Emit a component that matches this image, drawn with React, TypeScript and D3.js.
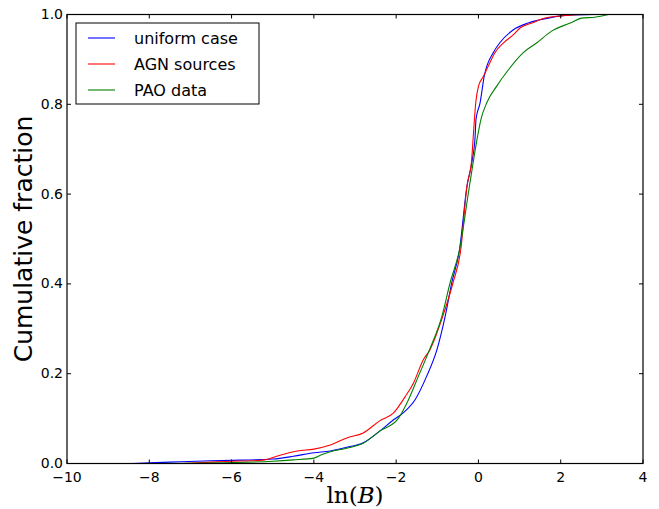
import React from "react";
import * as d3 from "d3";

const uniformX = [-8.4, -7.5, -6.5, -6.0, -5.0, -4.5, -4.0, -3.6, -3.2, -2.8, -2.4, -2.07, -1.8, -1.54, -1.26, -1.01, -0.81, -0.65, -0.46, -0.28, -0.15, -0.08, -0.06, 0.04, 0.14, 0.36, 0.52, 0.85, 1.21, 1.70, 2.1, 2.8];
const uniformY = [0, 0.003, 0.006, 0.007, 0.01, 0.016, 0.024, 0.028, 0.036, 0.046, 0.072, 0.097, 0.115, 0.142, 0.194, 0.253, 0.327, 0.402, 0.476, 0.617, 0.676, 0.729, 0.766, 0.803, 0.862, 0.915, 0.937, 0.966, 0.981, 0.992, 0.998, 1.0];

const agnX = [-7.2, -6.5, -6.0, -5.5, -5.2, -4.8, -4.4, -4.0, -3.6, -3.2, -2.8, -2.4, -2.07, -1.78, -1.58, -1.34, -1.18, -0.87, -0.62, -0.43, -0.28, -0.165, -0.125, -0.066, 0.0, 0.12, 0.24, 0.40, 0.61, 0.85, 1.01, 1.30, 1.62, 2.02, 2.51];
const agnY = [0, 0.003, 0.005, 0.006, 0.008, 0.019, 0.028, 0.032, 0.041, 0.057, 0.068, 0.095, 0.112, 0.149, 0.179, 0.231, 0.253, 0.327, 0.402, 0.476, 0.617, 0.676, 0.729, 0.803, 0.84, 0.862, 0.885, 0.915, 0.937, 0.955, 0.97, 0.981, 0.992, 0.997, 1.0];

const paoX = [-7.8, -6.0, -5.0, -4.5, -4.0, -3.8, -3.6, -3.2, -2.8, -2.4, -1.95, -1.70, -1.46, -1.19, -0.89, -0.69, -0.46, -0.22, -0.02, 0.06, 0.20, 0.44, 0.73, 1.09, 1.42, 1.78, 2.23, 2.51, 2.83, 3.16];
const paoY = [0, 0.002, 0.005, 0.008, 0.012, 0.02, 0.026, 0.034, 0.045, 0.072, 0.1, 0.142, 0.194, 0.253, 0.327, 0.402, 0.476, 0.617, 0.729, 0.766, 0.803, 0.84, 0.877, 0.915, 0.937, 0.963, 0.981, 0.992, 0.994, 1.0];

const seriesNames = ["uniform case", "AGN sources", "PAO data"];
const seriesColors = ["#0000ff", "#ff0000", "#008000"];
const xTicks = [-10, -8, -6, -4, -2, 0, 2, 4];
const yTicks = [0, 0.2, 0.4, 0.6, 0.8, 1.0];

export default function App() {
  const W = 659, H = 509;
  const left = 67, right = 643, top = 14.5, bottom = 463.5;
  const x = d3.scaleLinear().domain([-10, 4]).range([left, right]);
  const y = d3.scaleLinear().domain([0, 1]).range([bottom, top]);
  const line = d3.line<[number, number]>().x(d => x(d[0])).y(d => y(d[1])).curve(d3.curveMonotoneX);
  const series = [
    uniformX.map((v, i) => [v, uniformY[i]] as [number, number]),
    agnX.map((v, i) => [v, agnY[i]] as [number, number]),
    paoX.map((v, i) => [v, paoY[i]] as [number, number]),
  ];
  const fmtX = (v: number) => (v < 0 ? "\u2212" + Math.abs(v) : String(v));
  const font = "'DejaVu Sans', sans-serif";
  const tl = 4;
  return (
    <svg width={W} height={H} style={{ position: "absolute", left: 0, top: 0 }}>
      <rect x={0} y={0} width={W} height={H} fill="#fff" />
      <g fill="none" strokeWidth={1.1}>
        {series.map((s, i) => (
          <path key={i} d={line(s) || ""} stroke={seriesColors[i]} />
        ))}
      </g>
      <rect x={left} y={top} width={right - left} height={bottom - top} fill="none" stroke="#000" strokeWidth={1.2} />
      {xTicks.map(t => (
        <g key={"x" + t}>
          <line x1={x(t)} x2={x(t)} y1={bottom} y2={bottom - tl} stroke="#000" />
          <line x1={x(t)} x2={x(t)} y1={top} y2={top + tl} stroke="#000" />
          <text x={x(t)} y={bottom + 18} textAnchor="middle" fontFamily={font} fontSize={14}>{fmtX(t)}</text>
        </g>
      ))}
      {yTicks.map(t => (
        <g key={"y" + t}>
          <line x1={left} x2={left + tl} y1={y(t)} y2={y(t)} stroke="#000" />
          <line x1={right} x2={right - tl} y1={y(t)} y2={y(t)} stroke="#000" />
          <text x={left - 4} y={y(t) + 4.5} textAnchor="end" fontFamily={font} fontSize={14}>{t.toFixed(1)}</text>
        </g>
      ))}
      <g>
        <rect x={76} y={23} width={183} height={81} fill="#fff" stroke="#000" strokeWidth={1} />
        {seriesNames.map((n, i) => (
          <g key={n}>
            <line x1={88} x2={115} y1={38 + i * 26} y2={38 + i * 26} stroke={seriesColors[i]} strokeWidth={1.1} />
            <text x={134} y={38 + i * 26 + 6} fontFamily={font} fontSize={16}>{n}</text>
          </g>
        ))}
      </g>
      <text transform={`translate(32,${(top + bottom) / 2}) rotate(-90)`} textAnchor="middle" fontFamily={font} fontSize={25}>Cumulative fraction</text>
      <text x={(left + right) / 2} y={503} textAnchor="middle" fontFamily="'DejaVu Serif', serif" fontSize={23}>
        ln(<tspan fontStyle="italic">B</tspan>)
      </text>
    </svg>
  );
}
